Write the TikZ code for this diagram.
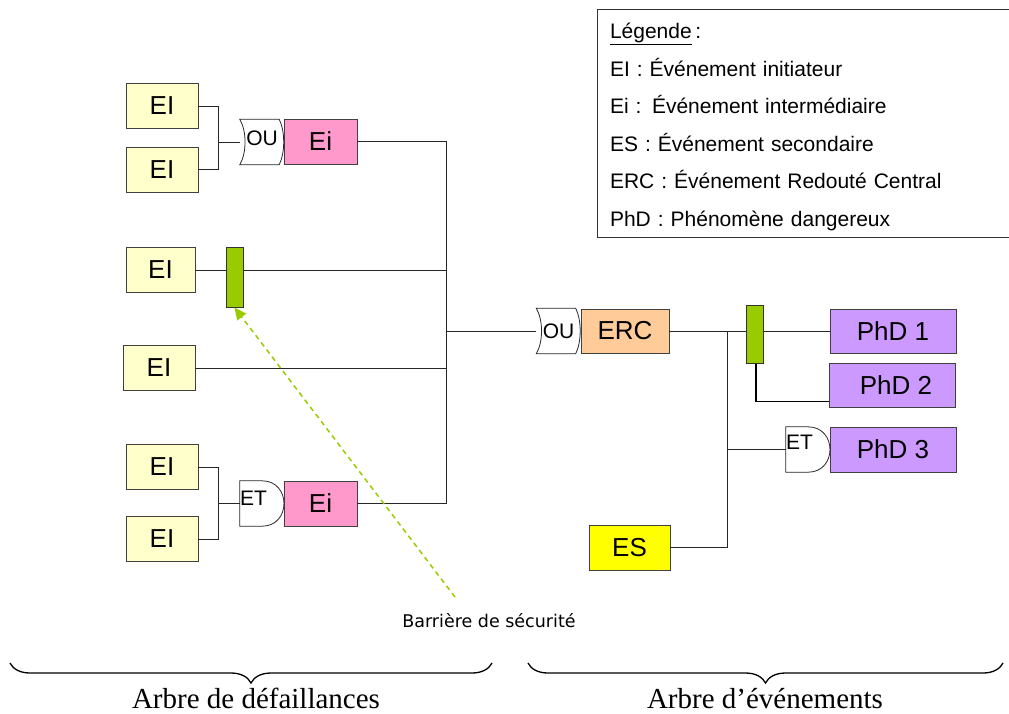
\documentclass[tikz,border=0pt]{standalone}
\usepackage{fontspec}
\setmainfont{Liberation Sans}
\newfontfamily\accoladefont{Liberation Serif}
\newfontfamily\barrierefont{DejaVu Sans}
\usetikzlibrary{decorations.pathreplacing,arrows.meta}

\definecolor{initcol}{HTML}{FFFFCC}
\definecolor{intercol}{HTML}{FF99CC}
\definecolor{erccol}{HTML}{FFCC99}
\definecolor{phdcol}{HTML}{CC99FF}
\definecolor{escol}{HTML}{FFFF00}
\definecolor{barcol}{HTML}{99CC00}

% contour des portes
\newcommand{\porteou}[1]{%
	\draw[gateline] (#1.north west) -- ([xshift=-5pt]#1.north east)
		.. controls ([xshift=1pt,yshift=-12pt]#1.north east) and ([xshift=1pt,yshift=12pt]#1.south east) .. ([xshift=-5pt]#1.south east)
		-- (#1.south west)
		.. controls ([xshift=7pt,yshift=12pt]#1.south west) and ([xshift=7pt,yshift=-12pt]#1.north west) .. cycle;}
\newcommand{\porteet}[1]{%
	\draw[gateline] (#1.south west) -- (#1.north west) -- (#1.north)
		.. controls ([xshift=29.3pt]#1.north) and ([xshift=29.3pt]#1.south) .. (#1.south) -- cycle;}

\begin{document}
\begin{tikzpicture}[x=1pt,y=-1pt,
	evt/.style={draw=black!75,line width=0.9pt,minimum width=72pt,minimum height=45pt,inner sep=0pt,font=\fontsize{26}{26}\selectfont},
	wire/.style={line width=0.9pt,black!85},
	gateline/.style={line width=0.8pt,black!85},
	gate/.style={minimum width=44pt,minimum height=45pt,inner sep=0pt,font=\fontsize{21}{21}\selectfont},
	barre/.style={draw=black!80,fill=barcol,line width=1pt,minimum width=17pt,minimum height=60pt,inner sep=0pt}]
	\useasboundingbox (0,0) rectangle (1009,713);

	%ARBRE DE DEFAILLANCES
	\node[evt,fill=initcol] (eiA) at (162,106) {EI};
	\node[evt,fill=initcol] (eiB) at (162,169.5) {EI};
	\node[gate,text depth=8pt] (ouA) at (262,142) {OU};
	\node[evt,fill=intercol,minimum width=73pt] (eiHaut) at (320.5,141.5) {Ei};

	\node[evt,fill=initcol,minimum width=69pt] (eiC) at (160.5,270) {EI};
	\node[barre] (barA) at (234.5,277) {};
	\node[evt,fill=initcol] (eiD) at (159,368) {EI};

	\node[evt,fill=initcol] (eiE) at (162,467) {EI};
	\node[evt,fill=initcol] (eiF) at (162,539) {EI};
	\node[gate,text width=44pt,align=left,text depth=11pt] (etA) at (262,503.5) {ET};
	\node[evt,fill=intercol,minimum width=73pt] (eiBas) at (320.5,503.5) {Ei};

	\coordinate (jA) at (218,142);
	\coordinate (jB) at (218,503.5);
	\coordinate (bus) at (446,503.5);

	\draw[wire] (eiA.east) -| (jA) -- (ouA.west);
	\draw[wire] (eiB.east) -| (jA);
	\draw[wire] (eiE.east) -| (jB) -- (etA.west);
	\draw[wire] (eiF.east) -| (jB);
	\draw[wire] (eiHaut.east) -| (bus) -- (eiBas.east);
	\draw[wire] (eiC.east) -- (barA.west |- eiC.east);
	\draw[wire] (barA.east |- eiC.east) -- (bus |- eiC.east);
	\draw[wire] (eiD.east) -- (bus |- eiD.east);
	\porteou{ouA}
	\porteet{etA}

	%ERC
	\node[gate] (ouB) at (558.5,331) {OU};
	\node[evt,fill=erccol,minimum width=88pt,minimum height=44pt] (erc) at (625,331) {ERC};
	\draw[wire] (bus |- ouB.west) -- (ouB.west);
	\porteou{ouB}

	%ARBRE D'EVENEMENTS
	\node[barre,minimum height=58pt] (barB) at (754.5,334) {};
	\node[evt,fill=phdcol,minimum width=126pt,minimum height=44pt] (phdA) at (893,331) {PhD 1};
	\node[evt,fill=phdcol,minimum width=126pt,minimum height=44pt] (phdB) at (892,385) {\hspace{8pt}PhD 2};
	\node[gate,text width=44pt,align=left,text depth=15pt] (etB) at (808,449.5) {ET};
	\node[evt,fill=phdcol,minimum width=126pt] (phdC) at (893,449.5) {PhD 3};
	\node[evt,fill=escol,minimum width=81pt] (es) at (629.5,547.5) {ES};
	\coordinate (jC) at (727,331);

	\draw[wire] (erc.east) -- (barB.west |- erc.east);
	\draw[wire] (es.east) -| (jC);
	\draw[wire] (barB.east |- phdA.west) -- (phdA.west);
	\draw[line width=1.6pt] ([xshift=1.5pt]barB.south) |- ([yshift=6pt]phdB.south west);
	\draw[wire] (jC |- etB.west) -- (etB.west);
	\porteet{etB}

	%BARRIERE
	\node[font=\barrierefont\fontsize{17.5}{17.5}\selectfont] (barriere) at (489,621) {Barrière de sécurité};
	\coordinate (queue) at (455,597);
	\draw[barcol,line width=1.5pt,dash pattern=on 5pt off 4pt,-{Triangle[length=12pt,width=11pt]}] (queue) -- (barA.south);

	%LEGENDE
	\node[draw=black!80,line width=1pt,anchor=north west,minimum width=425pt,minimum height=228pt,text width=400pt,inner xsep=11pt,align=left,
		font=\fontsize{21}{37.5}\selectfont] (legende) at (597,9)
		{\rule{0pt}{22pt}\underline{Légende}\,:\\EI : Événement initiateur\\Ei : Événement intermédiaire\\ES : Événement secondaire\\ERC : Événement Redouté Central\\PhD : Phénomène dangereux};

	%ACCOLADES
	\draw[decorate,decoration={brace,amplitude=20pt},line width=1.3pt] (492,663) -- (10,663);
	\draw[decorate,decoration={brace,amplitude=20pt},line width=1.3pt] (1003,663) -- (528,663);
	\node[font=\accoladefont\fontsize{29}{29}\selectfont,inner sep=0pt,anchor=base] (arbreD) at (256,708) {Arbre de défaillances};
	\node[font=\accoladefont\fontsize{29}{29}\selectfont,inner sep=0pt,anchor=base] (arbreE) at (765,708) {Arbre d’événements};
\end{tikzpicture}
\end{document}
